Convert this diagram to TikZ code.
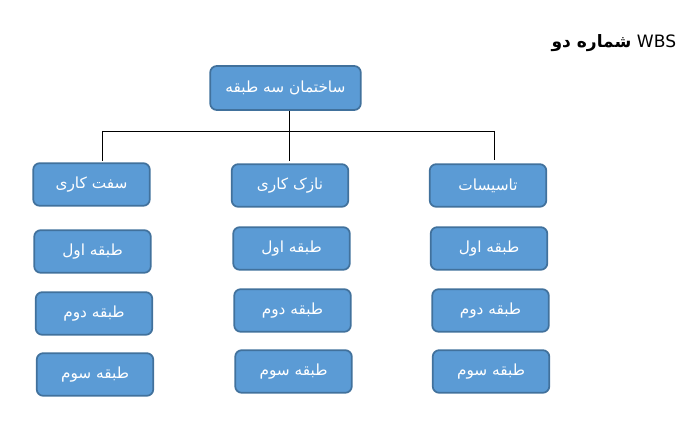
\documentclass[tikz,border=0pt]{standalone}
\usepackage{fontspec}
\newfontfamily\farsi[Script=Arabic]{DejaVu Sans}
\TeXXeTstate=1
\definecolor{boxfill}{HTML}{5B9BD5}
\definecolor{boxline}{HTML}{41719C}
\tikzset{
  task/.style={draw=boxline,fill=boxfill,line width=1.3pt,rounded corners=5pt,
    minimum width=87.5pt,minimum height=32pt,inner sep=0pt,text=white,
    font=\farsi\fontsize{11.5}{13}\selectfont},
  link/.style={black,line width=0.6pt}
}
\begin{document}
\begin{tikzpicture}[x=0.75pt,y=-0.75pt]
\useasboundingbox (0,0) rectangle (700,423);

\node[anchor=east,font=\farsi\fontsize{12.8}{14}\selectfont] (title) at (681,43) {\beginR\beginL WBS\endL{} \textbf{شماره دو}\endR};% Title

\node[task,minimum width=113pt,minimum height=33pt] (root) at (285.5,88) {\beginR ساختمان سه طبقه\endR};% Root

\node[task] (sakht) at (91.5,184.5) {\beginR سفت کاری\endR};% Left branch
\node[task] (nazok) at (290,185.5) {\beginR نازک کاری\endR};% Middle branch
\node[task] (tasis) at (488,185.5) {\beginR تاسیسات\endR};% Right branch

\node[task] (sakhtA) at (92.5,251.5) {\beginR طبقه اول\endR};
\node[task] (sakhtB) at (94,313.5) {\beginR طبقه دوم\endR};
\node[task] (sakhtC) at (95,374.5) {\beginR طبقه سوم\endR};

\node[task] (nazokA) at (291.5,248.5) {\beginR طبقه اول\endR};
\node[task] (nazokB) at (292.5,310.5) {\beginR طبقه دوم\endR};
\node[task] (nazokC) at (293.5,371.5) {\beginR طبقه سوم\endR};

\node[task] (tasisA) at (489,248.5) {\beginR طبقه اول\endR};
\node[task] (tasisB) at (490.5,310.5) {\beginR طبقه دوم\endR};
\node[task] (tasisC) at (491,371.5) {\beginR طبقه سوم\endR};

\coordinate (barL) at (102.5,131);
\coordinate (barR) at (494,131);
\coordinate (dropL) at (102.5,161);
\coordinate (dropR) at (494,160);
\coordinate (dropM) at (289,161);

\draw[link] (root.south -| dropM) -- (dropM);% Trunk
\draw[link] (barL) -- (barR);% Bar
\draw[link] (barL) -- (dropL);% Left drop
\draw[link] (barR) -- (dropR);% Right drop
\end{tikzpicture}
\end{document}
